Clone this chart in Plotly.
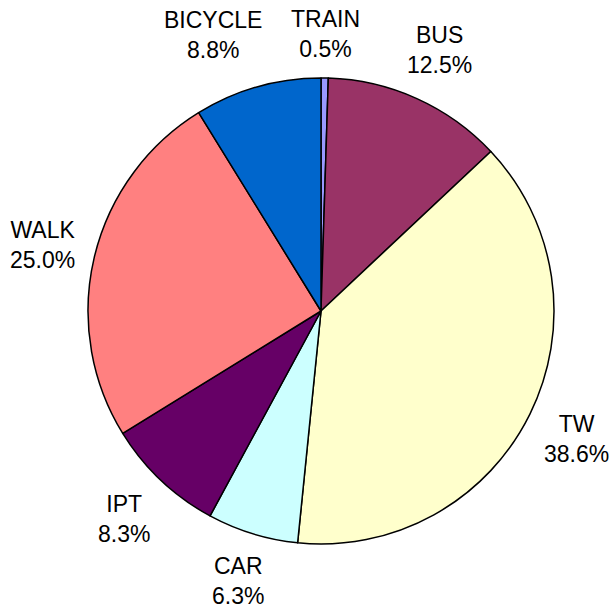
import math
import plotly.graph_objects as go

# Mode share (%)
modes = ['TRAIN', 'BUS', 'TW', 'CAR', 'IPT', 'WALK', 'BICYCLE']
shares = [0.5, 12.5, 38.6, 6.3, 8.3, 25.0, 8.8]
colors = ['#9999FF', '#993366', '#FFFFCC', '#CCFFFF', '#660066', '#FF8080', '#0066CC']

W, H = 614, 612
# pie placement in figure pixels
CX, CY, R = 321, 311, 233
FONT = 23
LINE_H = 25      # half height of a two-line label
GAP = 19         # distance between the rim and the label box

fig = go.Figure(go.Pie(
    labels=modes,
    values=shares,
    sort=False,
    direction='clockwise',
    rotation=0,
    marker=dict(colors=colors, line=dict(color='black', width=1.5)),
    textinfo='none',
    domain=dict(x=[(CX - R) / W, (CX + R) / W],
                y=[(H - CY - R) / H, (H - CY + R) / H]),
    hoverinfo='label+percent',
))

# label boxes placed just outside the rim, along each slice's mid angle
total = sum(shares)
labels = []
cum = 0.0
for name, v in zip(modes, shares):
    mid = (cum + v / 2) / total * 2 * math.pi
    cum += v
    text = f'{name}<br>{v / total * 100:.1f}%'
    hw = 0.3 * FONT * max(len(name), len(f'{v:.1f}%'))
    s, c = math.sin(mid), math.cos(mid)
    d = R + GAP + 0.85 * hw * abs(s) + LINE_H * abs(c)
    labels.append(dict(text=text, x=CX + d * s, y=CY - d * c, hw=hw))

# spread labels that sit too close side by side
for i, a in enumerate(labels):
    for b in labels[i + 1:]:
        if abs(a['y'] - b['y']) < 2 * LINE_H:
            left, right = (a, b) if a['x'] < b['x'] else (b, a)
            gap = (right['x'] - right['hw']) - (left['x'] + left['hw'])
            if gap < 30:
                mover = left if abs(left['x'] - CX) > abs(right['x'] - CX) else right
                shift = 30 - gap
                mover['x'] += -shift if mover is left else shift

for lb in labels:
    x = min(max(lb['x'], lb['hw'] + 3), W - lb['hw'] - 3)
    y = min(max(lb['y'], LINE_H + 4), H - LINE_H - 4)
    fig.add_annotation(
        text=lb['text'],
        x=x / W, y=1 - y / H,
        xref='paper', yref='paper',
        xanchor='center', yanchor='middle',
        showarrow=False,
        font=dict(family='Liberation Sans, Arial', size=FONT, color='black'),
    )

fig.update_layout(
    width=W,
    height=H,
    showlegend=False,
    paper_bgcolor='white',
    plot_bgcolor='white',
    margin=dict(l=0, r=0, t=0, b=0),
)

fig.write_html("out.html", config={'displayModeBar': False},
               post_script="document.body.style.margin = '0';")
